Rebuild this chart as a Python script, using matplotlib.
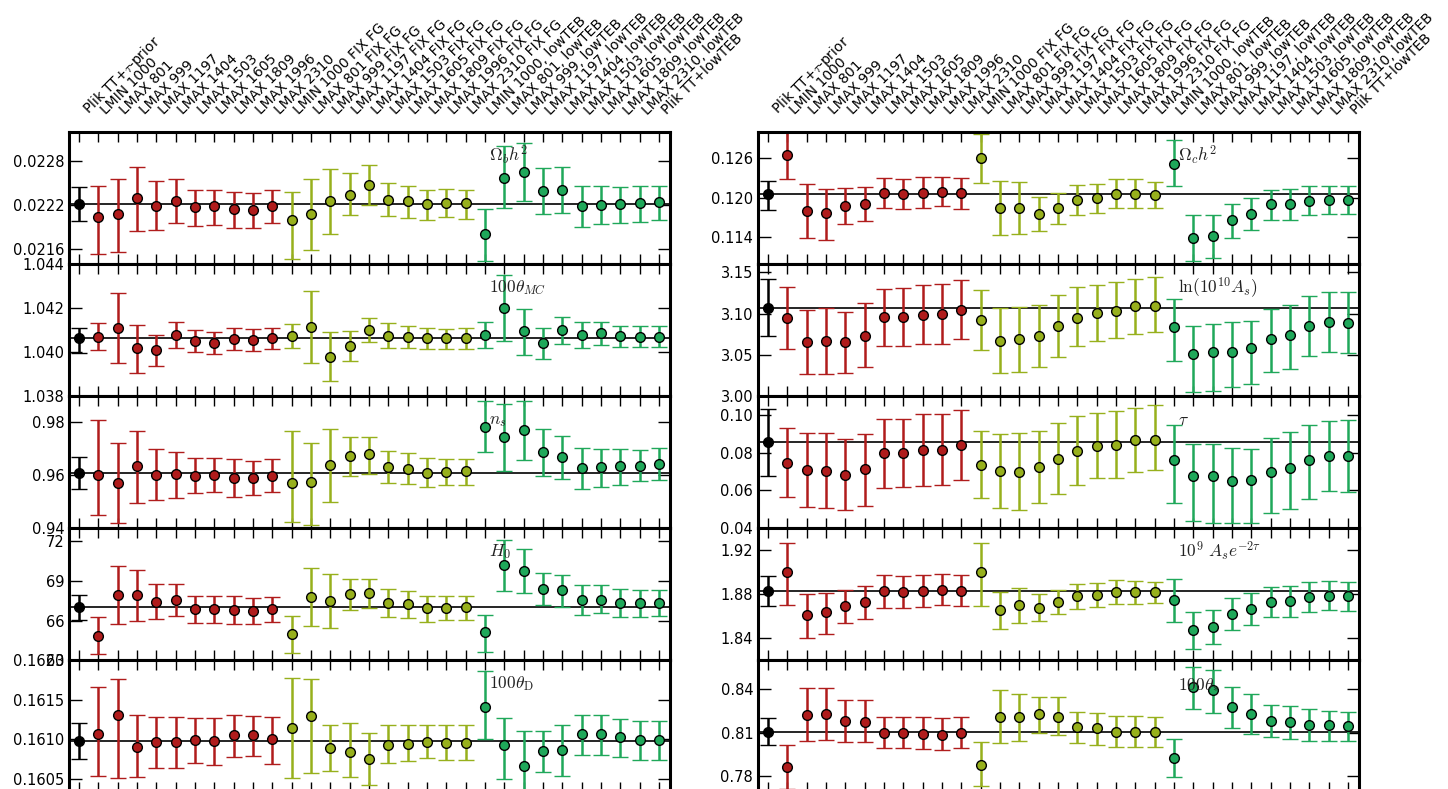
import numpy as np
import matplotlib.pyplot as plt
from matplotlib.ticker import FormatStrFormatter

plt.rcParams['mathtext.fontset'] = 'cm'

# -----------------------------
# Data
# -----------------------------
labels = ["Plik TT+$\\tau$-prior", "LMIN 1000", "LMAX 801", "LMAX 999", "LMAX 1197",
          "LMAX 1404", "LMAX 1503", "LMAX 1605", "LMAX 1809", "LMAX 1996", "LMAX 2310",
          "LMIN 1000 FIX FG", "LMAX 801 FIX FG", "LMAX 999 FIX FG", "LMAX 1197 FIX FG",
          "LMAX 1404 FIX FG", "LMAX 1503 FIX FG", "LMAX 1605 FIX FG", "LMAX 1809 FIX FG",
          "LMAX 1996 FIX FG", "LMAX 2310 FIX FG", "LMIN 1000, lowTEB", "LMAX 801, lowTEB",
          "LMAX 999, lowTEB", "LMAX 1197, lowTEB", "LMAX 1404, lowTEB", "LMAX 1503, lowTEB",
          "LMAX 1605, lowTEB", "LMAX 1809, lowTEB", "LMAX 2310, lowTEB", "Plik TT+lowTEB"]

# group of each run: 0 = baseline, 1 = plik variations, 2 = fixed foregrounds, 3 = lowTEB
groups = [0] + [1]*10 + [2]*10 + [3]*10

obh2_mid = [0.02221, 0.02203, 0.02208, 0.02230, 0.02219, 0.02226, 0.02217, 0.02218, 0.02214, 0.02213, 0.02218,
            0.02199, 0.02208, 0.02225, 0.02234, 0.02247, 0.02227, 0.02225, 0.02221, 0.02223, 0.02222,
            0.02181, 0.02257, 0.02265, 0.02239, 0.02241, 0.02219, 0.02220, 0.02221, 0.02223, 0.02224]
obh2_hi = [0.02244, 0.02246, 0.02256, 0.02272, 0.02252, 0.02256, 0.02241, 0.02241, 0.02237, 0.02236, 0.02241,
           0.02238, 0.02255, 0.02269, 0.02263, 0.02275, 0.02250, 0.02246, 0.02240, 0.02242, 0.02240,
           0.02214, 0.02300, 0.02304, 0.02270, 0.02271, 0.02246, 0.02246, 0.02245, 0.02246, 0.02246]
obh2_lo = [0.02198, 0.02153, 0.02156, 0.02185, 0.02186, 0.02195, 0.02192, 0.02193, 0.02188, 0.02189, 0.02195,
           0.02146, 0.02159, 0.02180, 0.02206, 0.02220, 0.02205, 0.02202, 0.02200, 0.02203, 0.02201,
           0.02143, 0.02216, 0.02226, 0.02207, 0.02209, 0.02190, 0.02194, 0.02196, 0.02197, 0.02199]

thetaMC_mid = [1.04064, 1.04068, 1.04111, 1.04017, 1.04009, 1.04079, 1.04050, 1.04043, 1.04059, 1.04055, 1.04064,
               1.04073, 1.04114, 1.03977, 1.04027, 1.04102, 1.04075, 1.04070, 1.04064, 1.04062, 1.04062,
               1.04079, 1.04202, 1.04097, 1.04041, 1.04102, 1.04080, 1.04085, 1.04073, 1.04070, 1.04070]
thetaMC_hi = [1.04109, 1.04132, 1.04268, 1.04125, 1.04080, 1.04136, 1.04100, 1.04091, 1.04108, 1.04105, 1.04111,
              1.04129, 1.04276, 1.04090, 1.04095, 1.04156, 1.04130, 1.04120, 1.04109, 1.04106, 1.04108,
              1.04136, 1.04352, 1.04194, 1.04111, 1.04158, 1.04136, 1.04135, 1.04117, 1.04117, 1.04117]
thetaMC_lo = [1.03997, 1.04011, 1.03952, 1.03905, 1.03938, 1.04018, 1.03999, 1.03993, 1.04009, 1.04005, 1.04015,
              1.04018, 1.03952, 1.03868, 1.03958, 1.04044, 1.04020, 1.04021, 1.04012, 1.04012, 1.04012,
              1.04020, 1.04050, 1.03988, 1.03968, 1.04038, 1.04020, 1.04032, 1.04023, 1.04023, 1.04023]

ns_mid = [0.9608, 0.9600, 0.9570, 0.9634, 0.9603, 0.9604, 0.9599, 0.9600, 0.9590, 0.9589, 0.9599,
          0.9570, 0.9574, 0.9638, 0.9673, 0.9680, 0.9632, 0.9625, 0.9610, 0.9614, 0.9615,
          0.9781, 0.9744, 0.9770, 0.9687, 0.9668, 0.9628, 0.9632, 0.9634, 0.9635, 0.9642]
ns_hi = [0.9668, 0.9811, 0.9722, 0.9767, 0.9700, 0.9690, 0.9666, 0.9666, 0.9661, 0.9653, 0.9661,
         0.9769, 0.9721, 0.9777, 0.9745, 0.9744, 0.9691, 0.9686, 0.9666, 0.9663, 0.9663,
         0.9881, 0.9869, 0.9881, 0.9774, 0.9750, 0.9705, 0.9698, 0.9701, 0.9695, 0.9702]
ns_lo = [0.9547, 0.9450, 0.9420, 0.9495, 0.9507, 0.9516, 0.9533, 0.9537, 0.9518, 0.9524, 0.9537,
         0.9422, 0.9411, 0.9498, 0.9599, 0.9606, 0.9571, 0.9566, 0.9556, 0.9562, 0.9562,
         0.9690, 0.9618, 0.9657, 0.9599, 0.9586, 0.9547, 0.9555, 0.9565, 0.9578, 0.9581]

H0_mid = [66.99, 64.86, 67.94, 67.94, 67.39, 67.59, 66.86, 66.86, 66.80, 66.73, 66.88,
          64.96, 67.79, 67.48, 67.99, 68.07, 67.36, 67.26, 66.95, 66.95, 67.01,
          65.17, 70.17, 69.76, 68.39, 68.32, 67.56, 67.56, 67.36, 67.31, 67.36]
H0_hi = [67.92, 66.23, 70.11, 69.86, 68.73, 68.75, 67.86, 67.86, 67.84, 67.69, 67.79,
         66.38, 69.96, 69.51, 69.15, 69.15, 68.37, 68.22, 67.86, 67.86, 67.82,
         66.42, 72.11, 71.40, 69.61, 69.45, 68.70, 68.67, 68.35, 68.30, 68.30]
H0_lo = [66.02, 63.47, 65.72, 65.97, 66.12, 66.38, 65.80, 65.85, 65.72, 65.77, 65.89,
         63.52, 65.59, 65.47, 66.80, 66.93, 66.27, 66.20, 65.92, 66.02, 66.02,
         63.65, 68.22, 68.07, 67.21, 67.06, 66.45, 66.55, 66.25, 66.30, 66.33]

thetaD_mid = [0.160975, 0.161063, 0.161304, 0.160899, 0.160962, 0.160962, 0.160987, 0.160975, 0.161051, 0.161051, 0.161000,
              0.161139, 0.161291, 0.160886, 0.160835, 0.160747, 0.160924, 0.160937, 0.160962, 0.160949, 0.160949,
              0.161405, 0.160924, 0.160658, 0.160848, 0.160861, 0.161063, 0.161063, 0.161025, 0.160987, 0.160987]
thetaD_hi = [0.161203, 0.161658, 0.161760, 0.161304, 0.161279, 0.161279, 0.161266, 0.161266, 0.161304, 0.161291, 0.161279,
             0.161772, 0.161760, 0.161177, 0.161203, 0.161076, 0.161177, 0.161177, 0.161177, 0.161177, 0.161177,
             0.161861, 0.161266, 0.161101, 0.161101, 0.161177, 0.161304, 0.161304, 0.161253, 0.161228, 0.161228]
thetaD_lo = [0.160747, 0.160532, 0.160506, 0.160519, 0.160633, 0.160633, 0.160696, 0.160671, 0.160772, 0.160785, 0.160684,
             0.160506, 0.160570, 0.160595, 0.160519, 0.160418, 0.160696, 0.160721, 0.160759, 0.160734, 0.160734,
             0.161000, 0.160494, 0.160253, 0.160582, 0.160532, 0.160797, 0.160797, 0.160772, 0.160734, 0.160734]

och2_mid = [0.12056, 0.12641, 0.11803, 0.11764, 0.11875, 0.11905, 0.12067, 0.12056, 0.12076, 0.12086, 0.12067,
            0.12605, 0.11844, 0.11844, 0.11758, 0.11840, 0.11965, 0.11995, 0.12056, 0.12056, 0.12045,
            0.12510, 0.11391, 0.11421, 0.11667, 0.11758, 0.11900, 0.11905, 0.11955, 0.11965, 0.11961]
och2_hi = [0.12253, 0.13120, 0.12212, 0.12136, 0.12147, 0.12157, 0.12302, 0.12287, 0.12318, 0.12308, 0.12293,
           0.12959, 0.12253, 0.12233, 0.12011, 0.12076, 0.12192, 0.12212, 0.12278, 0.12283, 0.12242,
           0.12872, 0.11734, 0.11734, 0.11909, 0.11990, 0.12116, 0.12136, 0.12172, 0.12181, 0.12172]
och2_lo = [0.11814, 0.12278, 0.11395, 0.11360, 0.11602, 0.11652, 0.11840, 0.11825, 0.11844, 0.11875, 0.11834,
           0.12218, 0.11441, 0.11446, 0.11497, 0.11598, 0.11734, 0.11769, 0.11840, 0.11840, 0.11849,
           0.12177, 0.11043, 0.11093, 0.11395, 0.11512, 0.11658, 0.11663, 0.11738, 0.11754, 0.11749]

lnAs_mid = [3.1073, 3.0944, 3.0657, 3.0665, 3.0653, 3.0726, 3.0956, 3.0956, 3.0988, 3.0996, 3.1045,
            3.0924, 3.0669, 3.0689, 3.0729, 3.0847, 3.0951, 3.1012, 3.1036, 3.1093, 3.1093,
            3.0835, 3.0515, 3.0532, 3.0539, 3.0584, 3.0697, 3.0745, 3.0854, 3.0899, 3.0891]
lnAs_hi = [3.1417, 3.1316, 3.1041, 3.1069, 3.1024, 3.1126, 3.1300, 3.1308, 3.1348, 3.1360, 3.1405,
           3.1288, 3.1065, 3.1081, 3.1102, 3.1223, 3.1316, 3.1348, 3.1381, 3.1417, 3.1445,
           3.1182, 3.0854, 3.0879, 3.0899, 3.0911, 3.1053, 3.1109, 3.1218, 3.1260, 3.1260]
lnAs_lo = [3.0726, 3.0575, 3.0272, 3.0272, 3.0280, 3.0350, 3.0604, 3.0612, 3.0629, 3.0636, 3.0697,
           3.0556, 3.0280, 3.0296, 3.0350, 3.0478, 3.0604, 3.0672, 3.0705, 3.0754, 3.0782,
           3.0430, 3.0053, 3.0062, 3.0110, 3.0143, 3.0292, 3.0329, 3.0487, 3.0535, 3.0519]

tau_mid = [0.0856, 0.0745, 0.0706, 0.0705, 0.0683, 0.0711, 0.0798, 0.0800, 0.0814, 0.0814, 0.0842,
           0.0736, 0.0702, 0.0699, 0.0724, 0.0768, 0.0809, 0.0837, 0.0839, 0.0867, 0.0869,
           0.0759, 0.0676, 0.0674, 0.0648, 0.0655, 0.0696, 0.0718, 0.0761, 0.0780, 0.0780]
tau_hi = [0.1031, 0.0931, 0.0902, 0.0902, 0.0871, 0.0901, 0.0978, 0.0978, 0.1003, 0.1003, 0.1026,
          0.0913, 0.0899, 0.0902, 0.0913, 0.0957, 0.0996, 0.1010, 0.1018, 0.1039, 0.1051,
          0.0946, 0.0846, 0.0846, 0.0824, 0.0821, 0.0876, 0.0908, 0.0946, 0.0970, 0.0973]
tau_lo = [0.0674, 0.0563, 0.0514, 0.0506, 0.0499, 0.0517, 0.0612, 0.0618, 0.0625, 0.0628, 0.0655,
          0.0559, 0.0506, 0.0499, 0.0531, 0.0579, 0.0627, 0.0664, 0.0667, 0.0696, 0.0708,
          0.0533, 0.0436, 0.0427, 0.0427, 0.0427, 0.0483, 0.0503, 0.0554, 0.0596, 0.0591]

As_mid = [1.8830, 1.9005, 1.8610, 1.8637, 1.8689, 1.8725, 1.8827, 1.8818, 1.8830, 1.8839, 1.8830,
          1.9005, 1.8655, 1.8700, 1.8676, 1.8730, 1.8779, 1.8794, 1.8821, 1.8818, 1.8815,
          1.8743, 1.8471, 1.8501, 1.8616, 1.8664, 1.8730, 1.8737, 1.8776, 1.8785, 1.8779]
As_hi = [1.8963, 1.9262, 1.8803, 1.8812, 1.8839, 1.8872, 1.8969, 1.8960, 1.8969, 1.8978, 1.8969,
         1.9268, 1.8815, 1.8857, 1.8800, 1.8836, 1.8890, 1.8897, 1.8927, 1.8920, 1.8911,
         1.8933, 1.8637, 1.8658, 1.8761, 1.8806, 1.8861, 1.8872, 1.8909, 1.8918, 1.8911]
As_lo = [1.8691, 1.8703, 1.8405, 1.8441, 1.8538, 1.8574, 1.8673, 1.8673, 1.8682, 1.8700, 1.8691,
         1.8691, 1.8486, 1.8540, 1.8556, 1.8616, 1.8661, 1.8680, 1.8712, 1.8712, 1.8721,
         1.8547, 1.8300, 1.8345, 1.8477, 1.8519, 1.8592, 1.8592, 1.8640, 1.8652, 1.8643]

thetaS_mid = [0.8107, 0.7865, 0.8224, 0.8231, 0.8183, 0.8176, 0.8100, 0.8100, 0.8093, 0.8086, 0.8100,
              0.7879, 0.8210, 0.8204, 0.8231, 0.8210, 0.8141, 0.8128, 0.8107, 0.8107, 0.8107,
              0.7928, 0.8417, 0.8390, 0.8279, 0.8231, 0.8183, 0.8176, 0.8155, 0.8155, 0.8148]
thetaS_hi = [0.8197, 0.8017, 0.8404, 0.8410, 0.8321, 0.8321, 0.8210, 0.8210, 0.8204, 0.8197, 0.8210,
             0.8038, 0.8390, 0.8369, 0.8348, 0.8342, 0.8245, 0.8238, 0.8217, 0.8217, 0.8210,
             0.8059, 0.8549, 0.8528, 0.8417, 0.8369, 0.8293, 0.8286, 0.8259, 0.8252, 0.8245]
thetaS_lo = [0.8017, 0.7714, 0.8045, 0.8052, 0.8038, 0.8038, 0.7997, 0.7997, 0.7990, 0.7983, 0.7997,
             0.7734, 0.8031, 0.8045, 0.8100, 0.8086, 0.8031, 0.8017, 0.8003, 0.8003, 0.8003,
             0.7796, 0.8259, 0.8238, 0.8128, 0.8093, 0.8066, 0.8059, 0.8045, 0.8045, 0.8045]

colors = ['black', '#b01c1c', '#97b01c', '#1fa85a']

# (mid, lo, hi, label, ylim, yticks, format)
left_panels = [
    (obh2_mid, obh2_lo, obh2_hi, r'$\Omega_b h^2$', (0.02140, 0.02320), [0.0216, 0.0222, 0.0228], '%.4f'),
    (thetaMC_mid, thetaMC_lo, thetaMC_hi, r'$100\theta_{MC}$', (1.038, 1.044), [1.038, 1.040, 1.042, 1.044], '%.3f'),
    (ns_mid, ns_lo, ns_hi, r'$n_s$', (0.94, 0.99), [0.94, 0.96, 0.98], '%.2f'),
    (H0_mid, H0_lo, H0_hi, r'$H_0$', (63, 73), [63, 66, 69, 72], '%d'),
    (thetaD_mid, thetaD_lo, thetaD_hi, r'$100\theta_{\rm D}$', (0.16033, 0.16200), [0.1605, 0.1610, 0.1615, 0.1620], '%.4f'),
]
right_panels = [
    (och2_mid, och2_lo, och2_hi, r'$\Omega_c h^2$', (0.110, 0.130), [0.114, 0.120, 0.126], '%.3f'),
    (lnAs_mid, lnAs_lo, lnAs_hi, r'$\ln(10^{10} A_s)$', (3.00, 3.16), [3.00, 3.05, 3.10, 3.15], '%.2f'),
    (tau_mid, tau_lo, tau_hi, r'$\tau$', (0.04, 0.11), [0.04, 0.06, 0.08, 0.10], '%.2f'),
    (As_mid, As_lo, As_hi, r'$10^9\ A_s e^{-2\tau}$', (1.82, 1.94), [1.84, 1.88, 1.92], '%.2f'),
    (thetaS_mid, thetaS_lo, thetaS_hi, r'$100\theta_{*}$', (0.7689, 0.8600), [0.78, 0.81, 0.84], '%.2f'),
]

# -----------------------------
# Layout (pixel based)
# -----------------------------
W, H = 1448, 789
fig = plt.figure(figsize=(W/100, H/100), dpi=100)
col_x = [69, 758]
col_w = 601
row_top = [131.5, 264, 396, 528, 660]
row_h = 132.2

x = np.arange(len(labels))
groups = np.array(groups)

for col, panels in enumerate([left_panels, right_panels]):
    for row, (mid, lo, hi, name, ylim, yticks, fmt) in enumerate(panels):
        bottom = 1 - (row_top[row] + row_h) / H
        ax = fig.add_axes([col_x[col] / W, bottom, col_w / W, row_h / H])
        mid = np.array(mid); lo = np.array(lo); hi = np.array(hi)

        ax.axhline(mid[0], color='black', lw=1.2, zorder=1)
        for g in range(4):
            sel = groups == g
            ax.errorbar(x[sel], mid[sel], yerr=[mid[sel] - lo[sel], hi[sel] - mid[sel]],
                        fmt='o', color=colors[g], mfc=colors[g], mec='black', mew=1.0,
                        ms=7, elinewidth=1.8, capsize=6, capthick=1.6, zorder=2)

        ax.set_xlim(-0.52, 30.57)
        ax.set_ylim(*ylim)
        ax.set_yticks(yticks)
        ax.yaxis.set_major_formatter(FormatStrFormatter(fmt))
        ax.set_xticks(x)
        ax.tick_params(axis='y', direction='in', length=9, width=1, left=True, right=True,
                       labelsize=10.5)
        ax.tick_params(axis='x', direction='in', length=7, width=1, top=True, bottom=True,
                       labelbottom=False, labeltop=(row == 0), labelsize=10, pad=10)
        if row == 0:
            ax.set_xticklabels(labels, rotation=45, ha='left')
        for sp in ax.spines.values():
            sp.set_linewidth(2.2)

        ax.text(21.2, 0.82, name, transform=ax.get_xaxis_transform(), fontsize=12.5,
                ha='left', va='center', color='#222222')

fig.savefig('out.png', dpi=100)
